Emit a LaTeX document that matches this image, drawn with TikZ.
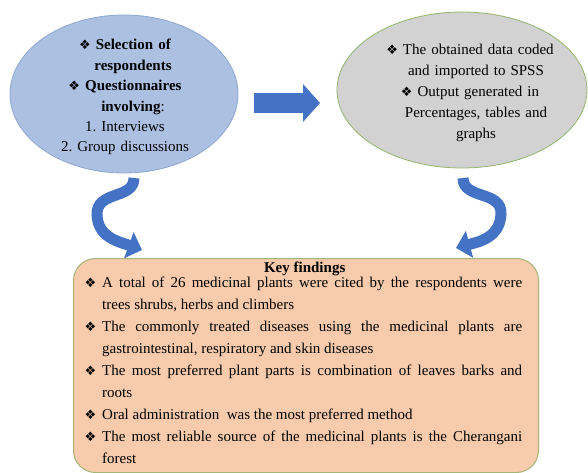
\documentclass[tikz,border=0pt]{standalone}
\usepackage{fontspec}
\setmainfont{Liberation Serif}
\newfontfamily\symfont{DejaVu Sans}
\usetikzlibrary{shapes.geometric,arrows.meta}
\definecolor{ellblue}{HTML}{ACC0E2}
\definecolor{ellblueline}{HTML}{8EA6CF}
\definecolor{ellgray}{HTML}{D2D2D2}
\definecolor{ellgreen}{HTML}{93B56B}
\definecolor{boxfill}{HTML}{F7CBAC}
\definecolor{boxline}{HTML}{A3B475}
\definecolor{arrowblue}{HTML}{4472C4}
\newcommand\dia{{\symfont\fontsize{13}{13}\selectfont ❖}}
\frenchspacing
\tikzset{
  bubble/.style={ellipse, line width=0.8pt, inner sep=0pt},
  findbox/.style={rectangle, rounded corners=22pt, draw=boxline, fill=boxfill, line width=1pt, inner sep=0pt},
  txt/.style={inner sep=0pt, align=center, font=\fontsize{15}{20.4}\selectfont},
  bigarrow/.style={line width=20pt, arrowblue, -{Triangle[width=37pt,length=17pt]}},
  curvearrow/.style={line width=11pt, arrowblue, -{Triangle[width=27pt,length=14pt]}}
}
\begin{document}
\begin{tikzpicture}[x=1pt,y=-1pt]
\useasboundingbox (0,0) rectangle (588,473);
% ellipses
\node[bubble, draw=ellblueline, fill=ellblue, minimum width=228pt, minimum height=158pt] (L) at (124,94) {};
\node[bubble, draw=ellgreen, fill=ellgray, minimum width=250pt, minimum height=156pt] (R) at (462,90) {};
% texts in ellipses
\node[txt, text width=150pt, anchor=base] (Ltxt) at (125,50) {%
\textbf{\dia\hspace{5pt}Selection of}\\
\hspace*{16pt}\textbf{respondents}\\
\textbf{\dia\hspace{5pt}Questionnaires}\\
\hspace*{16pt}\textbf{involving}:\\
1. Interviews\\
2. Group discussions};
\node[txt, text width=185pt, anchor=base, font=\fontsize{15}{20.8}\selectfont] (Rtxt) at (470,55) {%
\dia\hspace{5pt}The obtained data coded\\
\hspace*{12pt}and imported to SPSS\\
\dia\hspace{5pt}Output generated in\\
\hspace*{12pt}Percentages, tables and\\
\hspace*{12pt}graphs};
% findings box
\node[findbox, anchor=north west, minimum width=465pt, minimum height=214pt] (K) at (73,258) {};
\node[anchor=base west, text width=435pt, inner sep=0pt, align=justify, font=\fontsize{15}{22}\selectfont] (Ktxt) at (87,272) {%
\hyphenpenalty=10000\exhyphenpenalty=10000\parindent=0pt
{\centering\textbf{Key findings}\par}\vspace{-7pt}
\leftskip=15pt
\noindent\llap{\dia\hspace{6pt}}A total of 26 medicinal plants were cited by the respondents were\linebreak trees shrubs, herbs and climbers\par
\noindent\llap{\dia\hspace{6pt}}The commonly treated diseases using the medicinal plants are\linebreak gastrointestinal, respiratory and skin diseases\par
\noindent\llap{\dia\hspace{6pt}}The most preferred plant parts is combination of leaves barks and\linebreak roots\par
\noindent\llap{\dia\hspace{6pt}}Oral administration\ \ was the most preferred method\par
\noindent\llap{\dia\hspace{6pt}}The most reliable source of the medicinal plants is the Cherangani\linebreak forest\par};
% connectors
\coordinate (a1s) at (254,103);
\coordinate (a1e) at (320,103);
\draw[bigarrow] (a1s) -- (a1e);
\coordinate (c1s) at (134,178);
\coordinate (c1e) at (142,250);
\draw[curvearrow] (c1s) .. controls (134,200) and (96,190) .. (97,215) .. controls (98,238) and (120,242) .. (c1e);
\coordinate (c2s) at (463,178);
\coordinate (c2e) at (456,248);
\draw[curvearrow] (c2s) .. controls (463,200) and (502,190) .. (501,214) .. controls (500,238) and (478,242) .. (c2e);
\end{tikzpicture}
\end{document}
